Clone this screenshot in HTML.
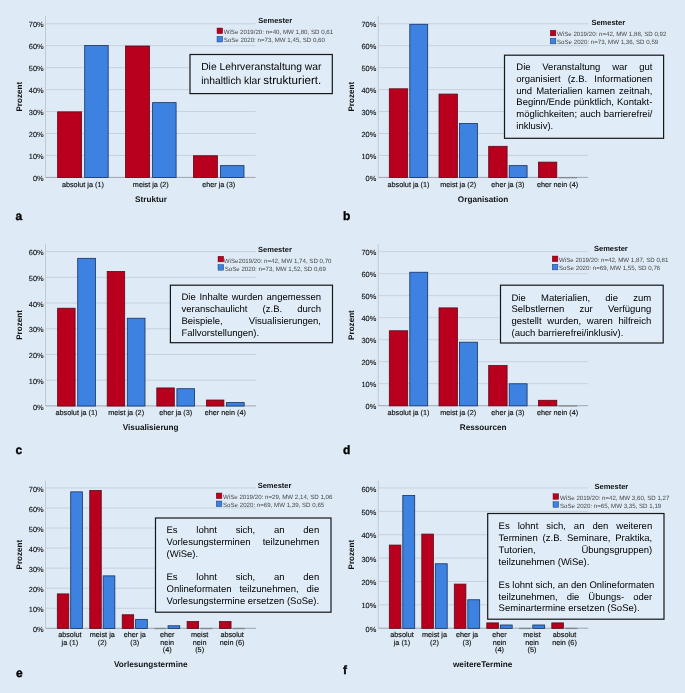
<!DOCTYPE html>
<html lang="de">
<head>
<meta charset="utf-8">
<title>Evaluation Semestervergleich</title>
<style>
html,body{margin:0;padding:0;}
body{width:685px;height:693px;position:relative;overflow:hidden;background:#deebf7;font-family:"Liberation Sans",sans-serif;}
svg{position:absolute;left:0;top:0;will-change:transform;}
svg text{font-family:"Liberation Sans",sans-serif;text-rendering:geometricPrecision;}
.t{position:absolute;color:#000;font-family:"Liberation Sans",sans-serif;text-rendering:geometricPrecision;}
</style>
</head>
<body>
<svg width="685" height="693" viewBox="0 0 685 693">
<rect x="0" y="0" width="685" height="693" fill="#deebf7"/>
<g id="panel-a">
<line x1="45.5" y1="155.45" x2="255.6" y2="155.45" stroke="#c0cad5" stroke-width="0.8"/>
<line x1="45.5" y1="133.5" x2="255.6" y2="133.5" stroke="#c0cad5" stroke-width="0.8"/>
<line x1="45.5" y1="111.55" x2="255.6" y2="111.55" stroke="#c0cad5" stroke-width="0.8"/>
<line x1="45.5" y1="89.6" x2="255.6" y2="89.6" stroke="#c0cad5" stroke-width="0.8"/>
<line x1="45.5" y1="67.65" x2="255.6" y2="67.65" stroke="#c0cad5" stroke-width="0.8"/>
<line x1="45.5" y1="45.7" x2="255.6" y2="45.7" stroke="#c0cad5" stroke-width="0.8"/>
<line x1="45.5" y1="23.75" x2="255.6" y2="23.75" stroke="#c0cad5" stroke-width="0.8"/>
<line x1="45.5" y1="15.6" x2="45.5" y2="177.4" stroke="#b9c2cd" stroke-width="0.8"/>
<text x="43.6" y="181" text-anchor="end" font-size="7.4" fill="#111111" stroke="#111111" stroke-width="0.12">0%</text>
<text x="43.6" y="159.05" text-anchor="end" font-size="7.4" fill="#111111" stroke="#111111" stroke-width="0.12">10%</text>
<text x="43.6" y="137.1" text-anchor="end" font-size="7.4" fill="#111111" stroke="#111111" stroke-width="0.12">20%</text>
<text x="43.6" y="115.15" text-anchor="end" font-size="7.4" fill="#111111" stroke="#111111" stroke-width="0.12">30%</text>
<text x="43.6" y="93.2" text-anchor="end" font-size="7.4" fill="#111111" stroke="#111111" stroke-width="0.12">40%</text>
<text x="43.6" y="71.25" text-anchor="end" font-size="7.4" fill="#111111" stroke="#111111" stroke-width="0.12">50%</text>
<text x="43.6" y="49.3" text-anchor="end" font-size="7.4" fill="#111111" stroke="#111111" stroke-width="0.12">60%</text>
<text x="43.6" y="27.35" text-anchor="end" font-size="7.4" fill="#111111" stroke="#111111" stroke-width="0.12">70%</text>
<text transform="translate(21.6,96.7) rotate(-90)" text-anchor="middle" font-size="8.1" font-weight="bold" fill="#111111">Prozent</text>
<line x1="45.5" y1="177.4" x2="255.6" y2="177.4" stroke="#8d939b" stroke-width="0.8"/>
<rect x="57.6" y="111.85" width="24" height="65.7" fill="#b8001e" stroke="#5a0a18" stroke-width="0.8"/>
<rect x="84.7" y="45.56" width="23.5" height="131.99" fill="#3d82e0" stroke="#17305e" stroke-width="0.8"/>
<rect x="125.5" y="46" width="24" height="131.55" fill="#b8001e" stroke="#5a0a18" stroke-width="0.8"/>
<rect x="152.6" y="102.63" width="23.5" height="74.92" fill="#3d82e0" stroke="#17305e" stroke-width="0.8"/>
<rect x="193.4" y="155.75" width="24" height="21.8" fill="#b8001e" stroke="#5a0a18" stroke-width="0.8"/>
<rect x="220.5" y="165.63" width="23.5" height="11.92" fill="#3d82e0" stroke="#17305e" stroke-width="0.8"/>
<text x="82.9" y="187" text-anchor="middle" font-size="7.27" fill="#111111" stroke="#111111" stroke-width="0.15">absolut ja (1)</text>
<text x="150.8" y="187" text-anchor="middle" font-size="7.27" fill="#111111" stroke="#111111" stroke-width="0.15">meist ja (2)</text>
<text x="218.7" y="187" text-anchor="middle" font-size="7.27" fill="#111111" stroke="#111111" stroke-width="0.15">eher ja (3)</text>
<text x="151" y="201.8" text-anchor="middle" font-size="8.2" font-weight="bold" fill="#111111">Struktur</text>
<text x="15.6" y="219.8" font-size="12" font-weight="bold" fill="#000" stroke="#000" stroke-width="0.35">a</text>
<text x="258.3" y="22.7" font-size="7.5" font-weight="bold" fill="#111111">Semester</text>
<rect x="217" y="28" width="5.7" height="5.7" fill="#b8001e" stroke="#5a0a18" stroke-width="0.4"/>
<rect x="217" y="36.3" width="5.7" height="5.7" fill="#3d82e0" stroke="#17305e" stroke-width="0.4"/>
<text x="223.7" y="34" font-size="6.15" fill="#444444">WiSe 2019/20: n=40, MW 1,80, SD 0,61</text>
<text x="223.7" y="41.9" font-size="6.15" fill="#444444">SoSe 2020: n=73, MW 1,45, SD 0,60</text>
<rect x="190" y="54.5" width="142.3" height="39.1" fill="#e0ecf8" stroke="#161616" stroke-width="1.2"/>
</g>
<g id="panel-b">
<line x1="378.2" y1="155.45" x2="588" y2="155.45" stroke="#c0cad5" stroke-width="0.8"/>
<line x1="378.2" y1="133.5" x2="588" y2="133.5" stroke="#c0cad5" stroke-width="0.8"/>
<line x1="378.2" y1="111.55" x2="588" y2="111.55" stroke="#c0cad5" stroke-width="0.8"/>
<line x1="378.2" y1="89.6" x2="588" y2="89.6" stroke="#c0cad5" stroke-width="0.8"/>
<line x1="378.2" y1="67.65" x2="588" y2="67.65" stroke="#c0cad5" stroke-width="0.8"/>
<line x1="378.2" y1="45.7" x2="588" y2="45.7" stroke="#c0cad5" stroke-width="0.8"/>
<line x1="378.2" y1="23.75" x2="588" y2="23.75" stroke="#c0cad5" stroke-width="0.8"/>
<line x1="378.2" y1="15.6" x2="378.2" y2="177.4" stroke="#b9c2cd" stroke-width="0.8"/>
<text x="376.3" y="181" text-anchor="end" font-size="7.4" fill="#111111" stroke="#111111" stroke-width="0.12">0%</text>
<text x="376.3" y="159.05" text-anchor="end" font-size="7.4" fill="#111111" stroke="#111111" stroke-width="0.12">10%</text>
<text x="376.3" y="137.1" text-anchor="end" font-size="7.4" fill="#111111" stroke="#111111" stroke-width="0.12">20%</text>
<text x="376.3" y="115.15" text-anchor="end" font-size="7.4" fill="#111111" stroke="#111111" stroke-width="0.12">30%</text>
<text x="376.3" y="93.2" text-anchor="end" font-size="7.4" fill="#111111" stroke="#111111" stroke-width="0.12">40%</text>
<text x="376.3" y="71.25" text-anchor="end" font-size="7.4" fill="#111111" stroke="#111111" stroke-width="0.12">50%</text>
<text x="376.3" y="49.3" text-anchor="end" font-size="7.4" fill="#111111" stroke="#111111" stroke-width="0.12">60%</text>
<text x="376.3" y="27.35" text-anchor="end" font-size="7.4" fill="#111111" stroke="#111111" stroke-width="0.12">70%</text>
<text transform="translate(354.3,96.7) rotate(-90)" text-anchor="middle" font-size="8.1" font-weight="bold" fill="#111111">Prozent</text>
<line x1="378.2" y1="177.4" x2="588" y2="177.4" stroke="#8d939b" stroke-width="0.8"/>
<rect x="389.3" y="88.8" width="18.4" height="88.75" fill="#b8001e" stroke="#5a0a18" stroke-width="0.8"/>
<rect x="409.8" y="24.27" width="17.9" height="153.28" fill="#3d82e0" stroke="#17305e" stroke-width="0.8"/>
<rect x="439" y="94.07" width="18.4" height="83.48" fill="#b8001e" stroke="#5a0a18" stroke-width="0.8"/>
<rect x="459.5" y="123.48" width="17.9" height="54.07" fill="#3d82e0" stroke="#17305e" stroke-width="0.8"/>
<rect x="488.7" y="146.31" width="18.4" height="31.24" fill="#b8001e" stroke="#5a0a18" stroke-width="0.8"/>
<rect x="509.2" y="165.63" width="17.9" height="11.92" fill="#3d82e0" stroke="#17305e" stroke-width="0.8"/>
<rect x="538.4" y="162.12" width="18.4" height="15.43" fill="#b8001e" stroke="#5a0a18" stroke-width="0.8"/>
<line x1="558.6" y1="177.65" x2="577.1" y2="177.65" stroke="#82888f" stroke-width="1.3"/>
<text x="408.5" y="187" text-anchor="middle" font-size="7.27" fill="#111111" stroke="#111111" stroke-width="0.15">absolut ja (1)</text>
<text x="458.2" y="187" text-anchor="middle" font-size="7.27" fill="#111111" stroke="#111111" stroke-width="0.15">meist ja (2)</text>
<text x="507.9" y="187" text-anchor="middle" font-size="7.27" fill="#111111" stroke="#111111" stroke-width="0.15">eher ja (3)</text>
<text x="557.6" y="187" text-anchor="middle" font-size="7.27" fill="#111111" stroke="#111111" stroke-width="0.15">eher nein (4)</text>
<text x="483.1" y="201.7" text-anchor="middle" font-size="8.2" font-weight="bold" fill="#111111">Organisation</text>
<text x="343" y="220" font-size="12" font-weight="bold" fill="#000" stroke="#000" stroke-width="0.35">b</text>
<text x="591.4" y="25" font-size="7.5" font-weight="bold" fill="#111111">Semester</text>
<rect x="550.2" y="30.2" width="5.7" height="5.7" fill="#b8001e" stroke="#5a0a18" stroke-width="0.4"/>
<rect x="550.2" y="38.2" width="5.7" height="5.7" fill="#3d82e0" stroke="#17305e" stroke-width="0.4"/>
<text x="557" y="35.7" font-size="6.15" fill="#444444">WiSe 2019/20: n=42, MW 1,88, SD 0,92</text>
<text x="557" y="43.5" font-size="6.15" fill="#444444">SoSe 2020: n=73, MW 1,36, SD 0,59</text>
<rect x="504.5" y="55.2" width="159.1" height="83.1" fill="#e0ecf8" stroke="#161616" stroke-width="1.2"/>
</g>
<g id="panel-c">
<line x1="45.5" y1="380.18" x2="256" y2="380.18" stroke="#c0cad5" stroke-width="0.8"/>
<line x1="45.5" y1="354.46" x2="256" y2="354.46" stroke="#c0cad5" stroke-width="0.8"/>
<line x1="45.5" y1="328.74" x2="256" y2="328.74" stroke="#c0cad5" stroke-width="0.8"/>
<line x1="45.5" y1="303.02" x2="256" y2="303.02" stroke="#c0cad5" stroke-width="0.8"/>
<line x1="45.5" y1="277.3" x2="256" y2="277.3" stroke="#c0cad5" stroke-width="0.8"/>
<line x1="45.5" y1="251.58" x2="256" y2="251.58" stroke="#c0cad5" stroke-width="0.8"/>
<line x1="45.5" y1="243.6" x2="45.5" y2="405.9" stroke="#b9c2cd" stroke-width="0.8"/>
<text x="43.6" y="409.5" text-anchor="end" font-size="7.4" fill="#111111" stroke="#111111" stroke-width="0.12">0%</text>
<text x="43.6" y="383.78" text-anchor="end" font-size="7.4" fill="#111111" stroke="#111111" stroke-width="0.12">10%</text>
<text x="43.6" y="358.06" text-anchor="end" font-size="7.4" fill="#111111" stroke="#111111" stroke-width="0.12">20%</text>
<text x="43.6" y="332.34" text-anchor="end" font-size="7.4" fill="#111111" stroke="#111111" stroke-width="0.12">30%</text>
<text x="43.6" y="306.62" text-anchor="end" font-size="7.4" fill="#111111" stroke="#111111" stroke-width="0.12">40%</text>
<text x="43.6" y="280.9" text-anchor="end" font-size="7.4" fill="#111111" stroke="#111111" stroke-width="0.12">50%</text>
<text x="43.6" y="255.18" text-anchor="end" font-size="7.4" fill="#111111" stroke="#111111" stroke-width="0.12">60%</text>
<text transform="translate(21.6,324.95) rotate(-90)" text-anchor="middle" font-size="8.1" font-weight="bold" fill="#111111">Prozent</text>
<line x1="45.5" y1="405.9" x2="256" y2="405.9" stroke="#8d939b" stroke-width="0.8"/>
<rect x="57.6" y="308.21" width="17.5" height="97.84" fill="#b8001e" stroke="#5a0a18" stroke-width="0.8"/>
<rect x="77.7" y="258.31" width="17.7" height="147.74" fill="#3d82e0" stroke="#17305e" stroke-width="0.8"/>
<rect x="107.2" y="271.43" width="17.5" height="134.62" fill="#b8001e" stroke="#5a0a18" stroke-width="0.8"/>
<rect x="127.3" y="318.24" width="17.7" height="87.81" fill="#3d82e0" stroke="#17305e" stroke-width="0.8"/>
<rect x="156.8" y="387.94" width="17.5" height="18.11" fill="#b8001e" stroke="#5a0a18" stroke-width="0.8"/>
<rect x="176.9" y="388.71" width="17.7" height="17.34" fill="#3d82e0" stroke="#17305e" stroke-width="0.8"/>
<rect x="206.4" y="400.03" width="17.5" height="6.02" fill="#b8001e" stroke="#5a0a18" stroke-width="0.8"/>
<rect x="226.5" y="402.6" width="17.7" height="3.45" fill="#3d82e0" stroke="#17305e" stroke-width="0.8"/>
<text x="76.5" y="415.2" text-anchor="middle" font-size="7.27" fill="#111111" stroke="#111111" stroke-width="0.15">absolut ja (1)</text>
<text x="126.1" y="415.2" text-anchor="middle" font-size="7.27" fill="#111111" stroke="#111111" stroke-width="0.15">meist ja (2)</text>
<text x="175.7" y="415.2" text-anchor="middle" font-size="7.27" fill="#111111" stroke="#111111" stroke-width="0.15">eher ja (3)</text>
<text x="225.3" y="415.2" text-anchor="middle" font-size="7.27" fill="#111111" stroke="#111111" stroke-width="0.15">eher nein (4)</text>
<text x="150.7" y="429.7" text-anchor="middle" font-size="8.2" font-weight="bold" fill="#111111">Visualisierung</text>
<text x="15.6" y="454.1" font-size="12" font-weight="bold" fill="#000" stroke="#000" stroke-width="0.35">c</text>
<text x="258.1" y="251.5" font-size="7.5" font-weight="bold" fill="#111111">Semester</text>
<rect x="218" y="256.2" width="5.7" height="5.7" fill="#b8001e" stroke="#5a0a18" stroke-width="0.4"/>
<rect x="218" y="264.5" width="5.7" height="5.7" fill="#3d82e0" stroke="#17305e" stroke-width="0.4"/>
<text x="223.8" y="262.7" font-size="6.15" fill="#444444">WiSe2019/20: n=42, MW 1,74, SD 0,70</text>
<text x="224.7" y="270.7" font-size="6.15" fill="#444444">SoSe 2020: n=73, MW 1,52, SD 0,69</text>
<rect x="170.4" y="285.2" width="162.1" height="57.5" fill="#e0ecf8" stroke="#161616" stroke-width="1.2"/>
</g>
<g id="panel-d">
<line x1="378.2" y1="383.7" x2="588.2" y2="383.7" stroke="#c0cad5" stroke-width="0.8"/>
<line x1="378.2" y1="361.7" x2="588.2" y2="361.7" stroke="#c0cad5" stroke-width="0.8"/>
<line x1="378.2" y1="339.7" x2="588.2" y2="339.7" stroke="#c0cad5" stroke-width="0.8"/>
<line x1="378.2" y1="317.7" x2="588.2" y2="317.7" stroke="#c0cad5" stroke-width="0.8"/>
<line x1="378.2" y1="295.7" x2="588.2" y2="295.7" stroke="#c0cad5" stroke-width="0.8"/>
<line x1="378.2" y1="273.7" x2="588.2" y2="273.7" stroke="#c0cad5" stroke-width="0.8"/>
<line x1="378.2" y1="251.7" x2="588.2" y2="251.7" stroke="#c0cad5" stroke-width="0.8"/>
<line x1="378.2" y1="244" x2="378.2" y2="405.7" stroke="#b9c2cd" stroke-width="0.8"/>
<text x="376.3" y="409.3" text-anchor="end" font-size="7.4" fill="#111111" stroke="#111111" stroke-width="0.12">0%</text>
<text x="376.3" y="387.3" text-anchor="end" font-size="7.4" fill="#111111" stroke="#111111" stroke-width="0.12">10%</text>
<text x="376.3" y="365.3" text-anchor="end" font-size="7.4" fill="#111111" stroke="#111111" stroke-width="0.12">20%</text>
<text x="376.3" y="343.3" text-anchor="end" font-size="7.4" fill="#111111" stroke="#111111" stroke-width="0.12">30%</text>
<text x="376.3" y="321.3" text-anchor="end" font-size="7.4" fill="#111111" stroke="#111111" stroke-width="0.12">40%</text>
<text x="376.3" y="299.3" text-anchor="end" font-size="7.4" fill="#111111" stroke="#111111" stroke-width="0.12">50%</text>
<text x="376.3" y="277.3" text-anchor="end" font-size="7.4" fill="#111111" stroke="#111111" stroke-width="0.12">60%</text>
<text x="376.3" y="255.3" text-anchor="end" font-size="7.4" fill="#111111" stroke="#111111" stroke-width="0.12">70%</text>
<text transform="translate(354.3,325.05) rotate(-90)" text-anchor="middle" font-size="8.1" font-weight="bold" fill="#111111">Prozent</text>
<line x1="378.2" y1="405.7" x2="588.2" y2="405.7" stroke="#8d939b" stroke-width="0.8"/>
<rect x="389.3" y="330.76" width="18.4" height="75.09" fill="#b8001e" stroke="#5a0a18" stroke-width="0.8"/>
<rect x="409.8" y="272.24" width="17.9" height="133.61" fill="#3d82e0" stroke="#17305e" stroke-width="0.8"/>
<rect x="439" y="307.88" width="18.4" height="97.97" fill="#b8001e" stroke="#5a0a18" stroke-width="0.8"/>
<rect x="459.5" y="342.2" width="17.9" height="63.65" fill="#3d82e0" stroke="#17305e" stroke-width="0.8"/>
<rect x="488.7" y="365.52" width="18.4" height="40.33" fill="#b8001e" stroke="#5a0a18" stroke-width="0.8"/>
<rect x="509.2" y="383.78" width="17.9" height="22.07" fill="#3d82e0" stroke="#17305e" stroke-width="0.8"/>
<rect x="538.4" y="400.28" width="18.4" height="5.57" fill="#b8001e" stroke="#5a0a18" stroke-width="0.8"/>
<line x1="558.6" y1="405.95" x2="577.1" y2="405.95" stroke="#82888f" stroke-width="1.3"/>
<text x="408.5" y="414.7" text-anchor="middle" font-size="7.27" fill="#111111" stroke="#111111" stroke-width="0.15">absolut ja (1)</text>
<text x="458.2" y="414.7" text-anchor="middle" font-size="7.27" fill="#111111" stroke="#111111" stroke-width="0.15">meist ja (2)</text>
<text x="507.9" y="414.7" text-anchor="middle" font-size="7.27" fill="#111111" stroke="#111111" stroke-width="0.15">eher ja (3)</text>
<text x="557.6" y="414.7" text-anchor="middle" font-size="7.27" fill="#111111" stroke="#111111" stroke-width="0.15">eher nein (4)</text>
<text x="483.2" y="430" text-anchor="middle" font-size="8.2" font-weight="bold" fill="#111111">Ressourcen</text>
<text x="343" y="454.2" font-size="12" font-weight="bold" fill="#000" stroke="#000" stroke-width="0.35">d</text>
<text x="594" y="251" font-size="7.5" font-weight="bold" fill="#111111">Semester</text>
<rect x="552.2" y="256" width="5.7" height="5.7" fill="#b8001e" stroke="#5a0a18" stroke-width="0.4"/>
<rect x="552.2" y="264.2" width="5.7" height="5.7" fill="#3d82e0" stroke="#17305e" stroke-width="0.4"/>
<text x="559" y="262.2" font-size="6.15" fill="#444444">WiSe 2019/20: n=42, MW 1,87, SD 0,81</text>
<text x="559" y="270" font-size="6.15" fill="#444444">SoSe 2020: n=69, MW 1,55, SD 0,76</text>
<rect x="500.5" y="285.2" width="162.7" height="57.8" fill="#e0ecf8" stroke="#161616" stroke-width="1.2"/>
</g>
<g id="panel-e">
<line x1="45.5" y1="608.25" x2="256" y2="608.25" stroke="#c0cad5" stroke-width="0.8"/>
<line x1="45.5" y1="588.2" x2="256" y2="588.2" stroke="#c0cad5" stroke-width="0.8"/>
<line x1="45.5" y1="568.15" x2="256" y2="568.15" stroke="#c0cad5" stroke-width="0.8"/>
<line x1="45.5" y1="548.1" x2="256" y2="548.1" stroke="#c0cad5" stroke-width="0.8"/>
<line x1="45.5" y1="528.05" x2="256" y2="528.05" stroke="#c0cad5" stroke-width="0.8"/>
<line x1="45.5" y1="508" x2="256" y2="508" stroke="#c0cad5" stroke-width="0.8"/>
<line x1="45.5" y1="487.95" x2="256" y2="487.95" stroke="#c0cad5" stroke-width="0.8"/>
<line x1="45.5" y1="480.6" x2="45.5" y2="628.3" stroke="#b9c2cd" stroke-width="0.8"/>
<text x="43.6" y="631.9" text-anchor="end" font-size="7.4" fill="#111111" stroke="#111111" stroke-width="0.12">0%</text>
<text x="43.6" y="611.85" text-anchor="end" font-size="7.4" fill="#111111" stroke="#111111" stroke-width="0.12">10%</text>
<text x="43.6" y="591.8" text-anchor="end" font-size="7.4" fill="#111111" stroke="#111111" stroke-width="0.12">20%</text>
<text x="43.6" y="571.75" text-anchor="end" font-size="7.4" fill="#111111" stroke="#111111" stroke-width="0.12">30%</text>
<text x="43.6" y="551.7" text-anchor="end" font-size="7.4" fill="#111111" stroke="#111111" stroke-width="0.12">40%</text>
<text x="43.6" y="531.65" text-anchor="end" font-size="7.4" fill="#111111" stroke="#111111" stroke-width="0.12">50%</text>
<text x="43.6" y="511.6" text-anchor="end" font-size="7.4" fill="#111111" stroke="#111111" stroke-width="0.12">60%</text>
<text x="43.6" y="491.55" text-anchor="end" font-size="7.4" fill="#111111" stroke="#111111" stroke-width="0.12">70%</text>
<text transform="translate(21.6,554.65) rotate(-90)" text-anchor="middle" font-size="8.1" font-weight="bold" fill="#111111">Prozent</text>
<line x1="45.5" y1="628.3" x2="256" y2="628.3" stroke="#8d939b" stroke-width="0.8"/>
<rect x="57.3" y="593.91" width="11.5" height="34.54" fill="#b8001e" stroke="#5a0a18" stroke-width="0.8"/>
<rect x="70.7" y="491.86" width="11.7" height="136.59" fill="#3d82e0" stroke="#17305e" stroke-width="0.8"/>
<rect x="89.75" y="490.46" width="11.5" height="137.99" fill="#b8001e" stroke="#5a0a18" stroke-width="0.8"/>
<rect x="103.15" y="575.87" width="11.7" height="52.58" fill="#3d82e0" stroke="#17305e" stroke-width="0.8"/>
<rect x="122.2" y="614.77" width="11.5" height="13.68" fill="#b8001e" stroke="#5a0a18" stroke-width="0.8"/>
<rect x="135.6" y="619.38" width="11.7" height="9.07" fill="#3d82e0" stroke="#17305e" stroke-width="0.8"/>
<line x1="154.35" y1="628.55" x2="166.45" y2="628.55" stroke="#82888f" stroke-width="1.3"/>
<rect x="168.05" y="625.79" width="11.7" height="2.66" fill="#3d82e0" stroke="#17305e" stroke-width="0.8"/>
<rect x="187.1" y="621.58" width="11.5" height="6.87" fill="#b8001e" stroke="#5a0a18" stroke-width="0.8"/>
<line x1="200.2" y1="628.55" x2="212.5" y2="628.55" stroke="#82888f" stroke-width="1.3"/>
<rect x="219.55" y="621.58" width="11.5" height="6.87" fill="#b8001e" stroke="#5a0a18" stroke-width="0.8"/>
<line x1="232.65" y1="628.55" x2="244.95" y2="628.55" stroke="#82888f" stroke-width="1.3"/>
<text x="69.85" y="637.1" text-anchor="middle" font-size="7.27" fill="#111111" stroke="#111111" stroke-width="0.15">absolut</text>
<text x="69.85" y="644.7" text-anchor="middle" font-size="7.27" fill="#111111" stroke="#111111" stroke-width="0.15">ja (1)</text>
<text x="102.3" y="637.1" text-anchor="middle" font-size="7.27" fill="#111111" stroke="#111111" stroke-width="0.15">meist ja</text>
<text x="102.3" y="644.7" text-anchor="middle" font-size="7.27" fill="#111111" stroke="#111111" stroke-width="0.15">(2)</text>
<text x="134.75" y="637.1" text-anchor="middle" font-size="7.27" fill="#111111" stroke="#111111" stroke-width="0.15">eher ja</text>
<text x="134.75" y="644.7" text-anchor="middle" font-size="7.27" fill="#111111" stroke="#111111" stroke-width="0.15">(3)</text>
<text x="167.2" y="637.1" text-anchor="middle" font-size="7.27" fill="#111111" stroke="#111111" stroke-width="0.15">eher</text>
<text x="167.2" y="644.7" text-anchor="middle" font-size="7.27" fill="#111111" stroke="#111111" stroke-width="0.15">nein</text>
<text x="167.2" y="652.2" text-anchor="middle" font-size="7.27" fill="#111111" stroke="#111111" stroke-width="0.15">(4)</text>
<text x="199.65" y="637.1" text-anchor="middle" font-size="7.27" fill="#111111" stroke="#111111" stroke-width="0.15">meist</text>
<text x="199.65" y="644.7" text-anchor="middle" font-size="7.27" fill="#111111" stroke="#111111" stroke-width="0.15">nein</text>
<text x="199.65" y="652.2" text-anchor="middle" font-size="7.27" fill="#111111" stroke="#111111" stroke-width="0.15">(5)</text>
<text x="232.1" y="637.1" text-anchor="middle" font-size="7.27" fill="#111111" stroke="#111111" stroke-width="0.15">absolut</text>
<text x="232.1" y="644.7" text-anchor="middle" font-size="7.27" fill="#111111" stroke="#111111" stroke-width="0.15">nein (6)</text>
<text x="150.7" y="667" text-anchor="middle" font-size="8.2" font-weight="bold" fill="#111111">Vorlesungstermine</text>
<text x="16" y="676.6" font-size="12" font-weight="bold" fill="#000" stroke="#000" stroke-width="0.35">e</text>
<text x="257.7" y="488" font-size="7.5" font-weight="bold" fill="#111111">Semester</text>
<rect x="216.2" y="493" width="5.7" height="5.7" fill="#b8001e" stroke="#5a0a18" stroke-width="0.4"/>
<rect x="216.2" y="501" width="5.7" height="5.7" fill="#3d82e0" stroke="#17305e" stroke-width="0.4"/>
<text x="223" y="499" font-size="6.15" fill="#444444">WiSe 2019/20: n=29, MW 2,14, SD 1,06</text>
<text x="223" y="507" font-size="6.15" fill="#444444">SoSe 2020: n=69, MW 1,39, SD 0,65</text>
<rect x="155.5" y="518" width="175.5" height="94.2" fill="#e0ecf8" stroke="#161616" stroke-width="1.2"/>
</g>
<g id="panel-f">
<line x1="378.2" y1="604.83" x2="588.2" y2="604.83" stroke="#c0cad5" stroke-width="0.8"/>
<line x1="378.2" y1="581.46" x2="588.2" y2="581.46" stroke="#c0cad5" stroke-width="0.8"/>
<line x1="378.2" y1="558.09" x2="588.2" y2="558.09" stroke="#c0cad5" stroke-width="0.8"/>
<line x1="378.2" y1="534.72" x2="588.2" y2="534.72" stroke="#c0cad5" stroke-width="0.8"/>
<line x1="378.2" y1="511.35" x2="588.2" y2="511.35" stroke="#c0cad5" stroke-width="0.8"/>
<line x1="378.2" y1="487.98" x2="588.2" y2="487.98" stroke="#c0cad5" stroke-width="0.8"/>
<line x1="378.2" y1="480.7" x2="378.2" y2="628.2" stroke="#b9c2cd" stroke-width="0.8"/>
<text x="376.3" y="631.8" text-anchor="end" font-size="7.4" fill="#111111" stroke="#111111" stroke-width="0.12">0%</text>
<text x="376.3" y="608.43" text-anchor="end" font-size="7.4" fill="#111111" stroke="#111111" stroke-width="0.12">10%</text>
<text x="376.3" y="585.06" text-anchor="end" font-size="7.4" fill="#111111" stroke="#111111" stroke-width="0.12">20%</text>
<text x="376.3" y="561.69" text-anchor="end" font-size="7.4" fill="#111111" stroke="#111111" stroke-width="0.12">30%</text>
<text x="376.3" y="538.32" text-anchor="end" font-size="7.4" fill="#111111" stroke="#111111" stroke-width="0.12">40%</text>
<text x="376.3" y="514.95" text-anchor="end" font-size="7.4" fill="#111111" stroke="#111111" stroke-width="0.12">50%</text>
<text x="376.3" y="491.58" text-anchor="end" font-size="7.4" fill="#111111" stroke="#111111" stroke-width="0.12">60%</text>
<text transform="translate(354.3,554.65) rotate(-90)" text-anchor="middle" font-size="8.1" font-weight="bold" fill="#111111">Prozent</text>
<line x1="378.2" y1="628.2" x2="588.2" y2="628.2" stroke="#8d939b" stroke-width="0.8"/>
<rect x="389.3" y="545.07" width="11.6" height="83.28" fill="#b8001e" stroke="#5a0a18" stroke-width="0.8"/>
<rect x="402.8" y="495.52" width="11.9" height="132.83" fill="#3d82e0" stroke="#17305e" stroke-width="0.8"/>
<rect x="421.8" y="534.09" width="11.6" height="94.26" fill="#b8001e" stroke="#5a0a18" stroke-width="0.8"/>
<rect x="435.3" y="563.77" width="11.9" height="64.58" fill="#3d82e0" stroke="#17305e" stroke-width="0.8"/>
<rect x="454.3" y="584.1" width="11.6" height="44.25" fill="#b8001e" stroke="#5a0a18" stroke-width="0.8"/>
<rect x="467.8" y="599.75" width="11.9" height="28.6" fill="#3d82e0" stroke="#17305e" stroke-width="0.8"/>
<rect x="486.8" y="622.89" width="11.6" height="5.46" fill="#b8001e" stroke="#5a0a18" stroke-width="0.8"/>
<rect x="500.3" y="624.99" width="11.9" height="3.36" fill="#3d82e0" stroke="#17305e" stroke-width="0.8"/>
<line x1="519" y1="628.45" x2="531.2" y2="628.45" stroke="#82888f" stroke-width="1.3"/>
<rect x="532.8" y="624.99" width="11.9" height="3.36" fill="#3d82e0" stroke="#17305e" stroke-width="0.8"/>
<rect x="551.8" y="622.89" width="11.6" height="5.46" fill="#b8001e" stroke="#5a0a18" stroke-width="0.8"/>
<line x1="565" y1="628.45" x2="577.5" y2="628.45" stroke="#82888f" stroke-width="1.3"/>
<text x="402" y="637" text-anchor="middle" font-size="7.27" fill="#111111" stroke="#111111" stroke-width="0.15">absolut</text>
<text x="402" y="644.6" text-anchor="middle" font-size="7.27" fill="#111111" stroke="#111111" stroke-width="0.15">ja (1)</text>
<text x="434.5" y="637" text-anchor="middle" font-size="7.27" fill="#111111" stroke="#111111" stroke-width="0.15">meist ja</text>
<text x="434.5" y="644.6" text-anchor="middle" font-size="7.27" fill="#111111" stroke="#111111" stroke-width="0.15">(2)</text>
<text x="467" y="637" text-anchor="middle" font-size="7.27" fill="#111111" stroke="#111111" stroke-width="0.15">eher ja</text>
<text x="467" y="644.6" text-anchor="middle" font-size="7.27" fill="#111111" stroke="#111111" stroke-width="0.15">(3)</text>
<text x="499.5" y="637" text-anchor="middle" font-size="7.27" fill="#111111" stroke="#111111" stroke-width="0.15">eher</text>
<text x="499.5" y="644.6" text-anchor="middle" font-size="7.27" fill="#111111" stroke="#111111" stroke-width="0.15">nein</text>
<text x="499.5" y="652" text-anchor="middle" font-size="7.27" fill="#111111" stroke="#111111" stroke-width="0.15">(4)</text>
<text x="532" y="637" text-anchor="middle" font-size="7.27" fill="#111111" stroke="#111111" stroke-width="0.15">meist</text>
<text x="532" y="644.6" text-anchor="middle" font-size="7.27" fill="#111111" stroke="#111111" stroke-width="0.15">nein</text>
<text x="532" y="652" text-anchor="middle" font-size="7.27" fill="#111111" stroke="#111111" stroke-width="0.15">(5)</text>
<text x="564.5" y="637" text-anchor="middle" font-size="7.27" fill="#111111" stroke="#111111" stroke-width="0.15">absolut</text>
<text x="564.5" y="644.6" text-anchor="middle" font-size="7.27" fill="#111111" stroke="#111111" stroke-width="0.15">nein (6)</text>
<text x="482.7" y="666.8" text-anchor="middle" font-size="8.2" font-weight="bold" fill="#111111">weitereTermine</text>
<text x="343" y="674" font-size="12" font-weight="bold" fill="#000" stroke="#000" stroke-width="0.35">f</text>
<text x="594.5" y="488.7" font-size="7.5" font-weight="bold" fill="#111111">Semester</text>
<rect x="553" y="493.7" width="5.7" height="5.7" fill="#b8001e" stroke="#5a0a18" stroke-width="0.4"/>
<rect x="553" y="501.7" width="5.7" height="5.7" fill="#3d82e0" stroke="#17305e" stroke-width="0.4"/>
<text x="560" y="500" font-size="6.15" fill="#444444">WiSe 2019/20: n=42, MW 3,60, SD 1,27</text>
<text x="560" y="507.7" font-size="6.15" fill="#444444">SoSe 2020: n=65, MW 3,35, SD 1,19</text>
<rect x="487.7" y="513.5" width="176.3" height="105.7" fill="#e0ecf8" stroke="#161616" stroke-width="1.2"/>
</g>
<g id="boxtext">
<text x="201.2" y="70" font-size="10.3" fill="#000">Die Lehrveranstaltung war</text>
<text x="201.2" y="84" font-size="10.3" fill="#000" xml:space="preserve"><tspan font-size="10.3">inhaltlich klar</tspan><tspan font-size="9.0"> </tspan><tspan font-size="11.6">strukturiert.</tspan></text>
<text x="516.3" y="70" font-size="9.5" fill="#000" word-spacing="9.101">Die Veranstaltung war gut</text>
<text x="516.3" y="82" font-size="9.5" fill="#000" word-spacing="4.417">organisiert (z.B. Informationen</text>
<text x="516.3" y="93.5" font-size="9.5" fill="#000" word-spacing="1.356">und Materialien kamen zeitnah,</text>
<text x="516.3" y="105.4" font-size="9.5" fill="#000" word-spacing="0.448">Beginn/Ende pünktlich, Kontakt-</text>
<text x="516.3" y="117.3" font-size="9.5" fill="#000" word-spacing="0.456">möglichkeiten; auch barrierefrei/</text>
<text x="516.3" y="129" font-size="9.5" fill="#000">inklusiv).</text>
<text x="181.5" y="300.4" font-size="9.5" fill="#000" word-spacing="1.078">Die Inhalte wurden angemessen</text>
<text x="181.5" y="312.1" font-size="9.5" fill="#000" word-spacing="12.453">veranschaulicht (z.B. durch</text>
<text x="181.5" y="323.9" font-size="9.5" fill="#000" word-spacing="23.484">Beispiele, Visualisierungen,</text>
<text x="181.5" y="335.8" font-size="9.5" fill="#000">Fallvorstellungen).</text>
<text x="511.5" y="300.5" font-size="9.5" fill="#000" word-spacing="12.598">Die Materialien, die zum</text>
<text x="511.5" y="312.2" font-size="9.5" fill="#000" word-spacing="12.545">Selbstlernen zur Verfügung</text>
<text x="511.5" y="324" font-size="9.5" fill="#000" word-spacing="3.088">gestellt wurden, waren hilfreich</text>
<text x="511.5" y="335.7" font-size="9.5" fill="#000">(auch barrierefrei/inklusiv).</text>
<text x="166.5" y="532.7" font-size="9.5" fill="#000" word-spacing="16.124">Es lohnt sich, an den</text>
<text x="166.5" y="544.7" font-size="9.5" fill="#000" word-spacing="9.575">Vorlesungsterminen teilzunehmen</text>
<text x="166.5" y="556.7" font-size="9.5" fill="#000">(WiSe).</text>
<text x="166.5" y="580.2" font-size="9.5" fill="#000" word-spacing="16.124">Es lohnt sich, an den</text>
<text x="166.5" y="591.7" font-size="9.5" fill="#000" word-spacing="5.319">Onlineformaten teilzunehmen, die</text>
<text x="166.5" y="603.7" font-size="9.5" fill="#000">Vorlesungstermine ersetzen (SoSe).</text>
<text x="498.6" y="529" font-size="9.5" fill="#000" word-spacing="5.370">Es lohnt sich, an den weiteren</text>
<text x="498.6" y="540.5" font-size="9.5" fill="#000" word-spacing="2.273">Terminen (z.B. Seminare, Praktika,</text>
<text x="498.6" y="552.5" font-size="9.5" fill="#000" word-spacing="43.038">Tutorien, Übungsgruppen)</text>
<text x="498.6" y="564.5" font-size="9.5" fill="#000">teilzunehmen (WiSe).</text>
<text x="498.6" y="588" font-size="9.5" fill="#000">Es lohnt sich, an den Onlineformaten</text>
<text x="498.6" y="599.5" font-size="9.5" fill="#000" word-spacing="6.309">teilzunehmen, die Übungs- oder</text>
<text x="498.6" y="611.2" font-size="9.5" fill="#000">Seminartermine ersetzen (SoSe).</text>
</g>
</svg>
</body>
</html>
